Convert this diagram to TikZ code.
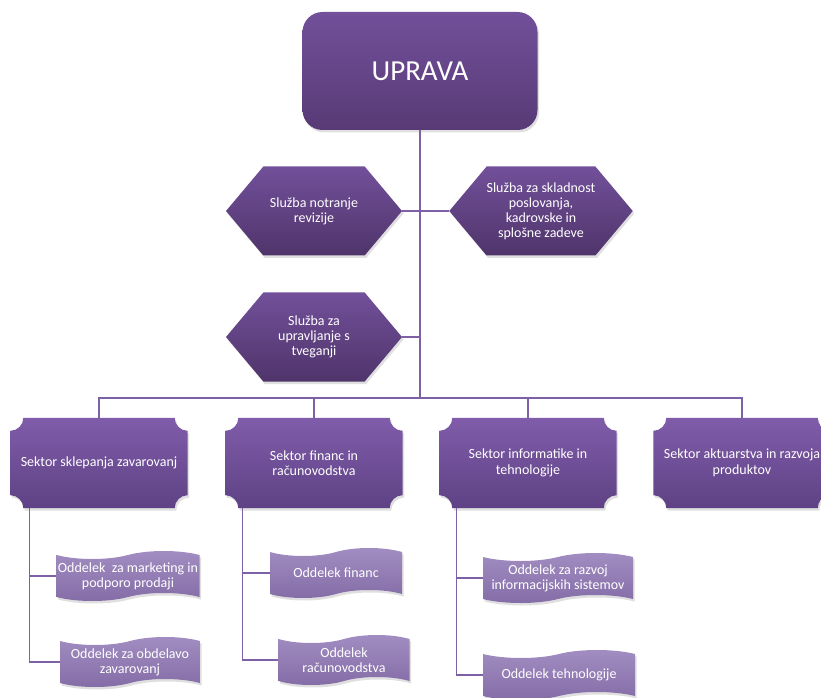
\documentclass[tikz,border=0pt]{standalone}
\usepackage{fontspec}
\setmainfont{Carlito}
\usepackage{xcolor}
\usepackage{tikz}
\usetikzlibrary{shapes.symbols,shadows,backgrounds}
\definecolor{upratop}{RGB}{114,80,154}
\definecolor{uprabot}{RGB}{88,58,118}
\definecolor{plaqtop}{RGB}{128,92,170}
\definecolor{plaqbot}{RGB}{94,66,132}
\definecolor{tapetop}{RGB}{162,142,194}
\definecolor{tapebot}{RGB}{132,108,166}
\definecolor{linecolor}{RGB}{125,96,165}

% plaque behind a sektor node (concave corners)
\newcommand{\plaquefill}[1]{%
  \path[plaque] ([xshift=13pt]#1.north west) -- ([xshift=-13pt]#1.north east)
    arc[start angle=180,end angle=270,radius=13pt] -- ([yshift=13pt]#1.south east)
    arc[start angle=90,end angle=180,radius=13pt] -- ([xshift=13pt]#1.south west)
    arc[start angle=0,end angle=90,radius=13pt] -- ([yshift=-13pt]#1.north west)
    arc[start angle=270,end angle=360,radius=13pt] -- cycle;}

\begin{document}
\begin{tikzpicture}[x=1pt,y=1pt,
    shade/.style={drop shadow={opacity=0.25,shadow xshift=1.5pt,shadow yshift=-2.5pt}},
    line/.style={draw=linecolor,line width=1.6pt},
    upra/.style={shade,rounded corners=20pt,top color=upratop,bottom color=uprabot,
      text=white,minimum width=235pt,minimum height=118pt,font=\fontsize{29}{33}\selectfont},
    sluzba/.style={shade,signal,signal to=west and east,signal pointer angle=100,
      top color=upratop,bottom color=uprabot!90!black,text=white,align=center,
      minimum width=176pt,minimum height=89pt,inner xsep=0pt,inner ysep=1pt,
      font=\fontsize{14}{15}\selectfont},
    sektor/.style={minimum width=177pt,minimum height=90pt,text=white,align=center,
      font=\fontsize{14}{15.5}\selectfont},
    plaque/.style={shade,top color=plaqtop,bottom color=plaqbot},
    oddelek/.style={shade,tape,tape bend height=8pt,top color=tapetop,bottom color=tapebot,
      text=white,align=center,minimum height=50pt,inner sep=1pt,font=\fontsize{14}{15}\selectfont}
  ]
  \useasboundingbox (0,0) rectangle (821,697);

  \node[upra] (upr) at (420,626) {UPRAVA};
  \node[sluzba] (revizija) at (314,486) {Služba notranje\\revizije};
  \node[sluzba] (skladnost) at (541,486) {Služba za skladnost\\poslovanja,\\kadrovske in\\splošne zadeve};
  \node[sluzba] (tveganja) at (314,360) {Služba za\\upravljanje s\\tveganji};
  \coordinate (bus) at (420,299);

  \node[sektor] (s1) at (99,234) {Sektor sklepanja zavarovanj};
  \node[sektor] (s2) at (314,234) {Sektor financ in\\računovodstva};
  \node[sektor] (s3) at (528,234) {Sektor informatike in\\tehnologije};
  \node[sektor] (s4) at (742,234) {Sektor aktuarstva in razvoja\\produktov};

  \node[oddelek,minimum width=143pt] (marketing) at (128,121) {Oddelek~ za marketing in\\podporo prodaji};
  \node[oddelek,minimum width=140pt] (obdelava) at (130,35) {Oddelek za obdelavo\\zavarovanj};
  \node[oddelek,minimum width=132pt] (financ) at (336,124) {Oddelek financ};
  \node[oddelek,minimum width=131pt] (racun) at (344,37) {Oddelek\\računovodstva};
  \node[oddelek,minimum width=150pt] (razvoj) at (558,119) {Oddelek za razvoj\\informacijskih sistemov};
  \node[oddelek,minimum width=152pt] (tehno) at (559,22) {Oddelek tehnologije};

  \begin{scope}[on background layer]
    \foreach \s in {s1,s2,s3,s4}
      \plaquefill{\s};
    \draw[line] (upr.south) -- (bus);
    \draw[line] (revizija.east) -- (revizija.east -| upr.south);
    \draw[line] (skladnost.west) -- (skladnost.west -| upr.south);
    \draw[line] (tveganja.east) -- (tveganja.east -| upr.south);
    \draw[line] (s1.north) |- (bus) -| (s4.north);
    \draw[line] (s2.north) -- (s2.north |- bus);
    \draw[line] (s3.north) -- (s3.north |- bus);
    \draw[line] ([xshift=19pt]s1.south west) |- (marketing.west);
    \draw[line] ([xshift=19pt]s1.south west) |- (obdelava.west);
    \draw[line] ([xshift=17pt]s2.south west) |- (financ.west);
    \draw[line] ([xshift=17pt]s2.south west) |- (racun.west);
    \draw[line] ([xshift=17pt]s3.south west) |- (razvoj.west);
    \draw[line] ([xshift=17pt]s3.south west) |- (tehno.west);
  \end{scope}
\end{tikzpicture}
\end{document}
